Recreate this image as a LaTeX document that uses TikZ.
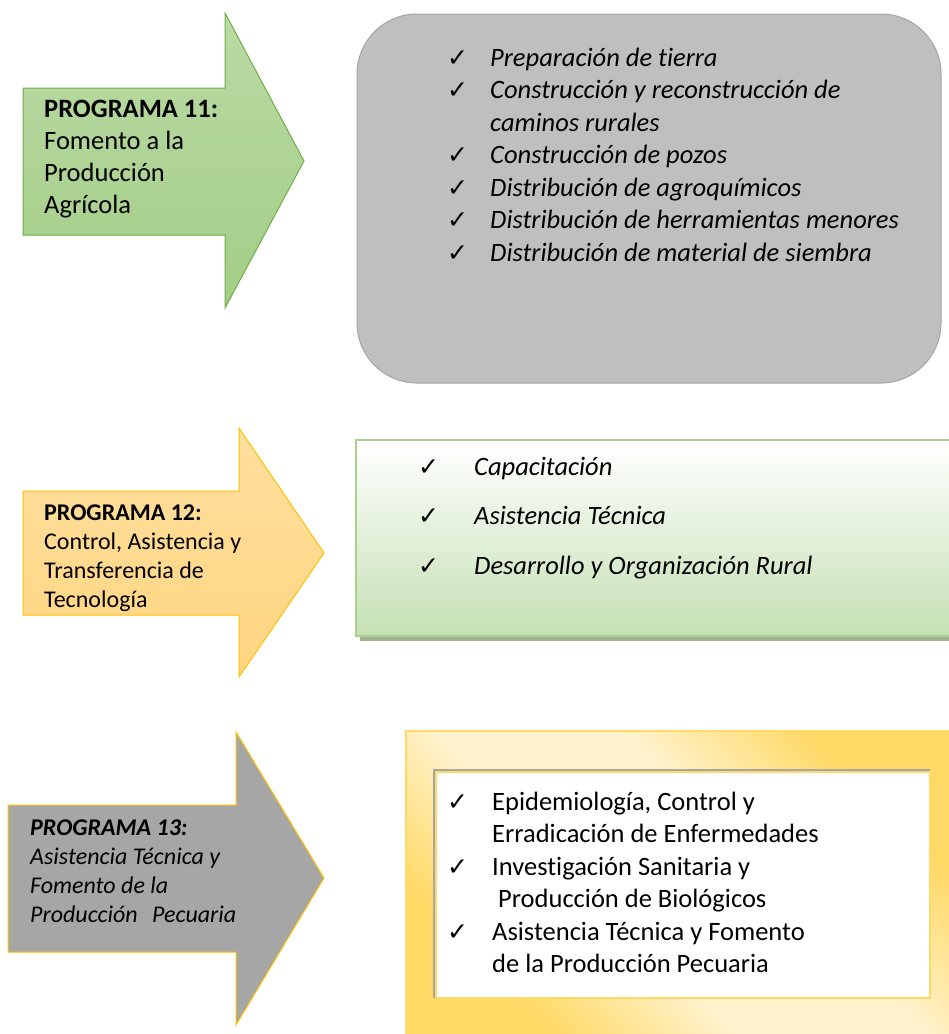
\documentclass[tikz,border=0pt]{standalone}
\usepackage{fontspec}
\setmainfont{Carlito}[Ligatures=NoCommon, RawFeature=-calt, RawFeature=-dlig]
\newfontfamily\chkfont{DejaVu Sans}
\usetikzlibrary{positioning}
\definecolor{armgreen}{HTML}{A9D18E}
\definecolor{armgreenline}{HTML}{70AD47}
\definecolor{armorange}{HTML}{FFD580}
\definecolor{armgold}{HTML}{FFC000}
\definecolor{armgray}{HTML}{A6A6A6}
\definecolor{boxgray}{HTML}{BFBFBF}
\definecolor{boxgrayline}{HTML}{A5A5A5}
\definecolor{boxgreen}{HTML}{C5E0B4}
\definecolor{boxshadow}{HTML}{A3B091}
\definecolor{boxyellow}{HTML}{FFD966}
\definecolor{boxcream}{HTML}{FFF2CC}
\pgfdeclareverticalshading{goldband}{100bp}{color(0bp)=(boxyellow); color(27bp)=(boxyellow); color(42bp)=(boxcream); color(58bp)=(boxcream); color(73bp)=(boxyellow); color(100bp)=(boxyellow)}
\newcommand{\chk}{{\chkfont\fontsize{25}{25}\selectfont ✓}}
\tikzset{%
	prog arrow/.style={
		line width=1pt,
		line join=miter
	},
	prog text/.style={
		anchor=base west,
		inner sep=0pt,
		font=\fontsize{24}{29}\selectfont
	},
	list text/.style={
		anchor=base west,
		inner sep=0pt,
		font=\fontsize{26.5}{32.5}\selectfont
	},
}

\begin{document}
\begin{tikzpicture}[x=1pt,y=-1pt]
	\clip (0,0) rectangle (949,1034);
	% programa 11
	\draw[prog arrow, draw=armgreenline, top color=armgreen!80!white, bottom color=armgreen!90!armgreenline]
		(23,88) -- (225,88) -- (225,13) -- (304,161) -- (225,308) -- (225,235) -- (23,235) -- cycle;
	\draw[line width=1pt, draw=boxgrayline, fill=boxgray, rounded corners=60pt]
		(357,14) rectangle (941,383);
	\node[prog text, font=\fontsize{26.5}{32}\selectfont] (p11) at (44,117)
		{\begin{tabular}[t]{@{}l@{}}
		\textbf{PROGRAMA 11:}\\Fomento a la\\Producción\\Agrícola
		\end{tabular}};
	\node[list text] (l11) at (447,66) {\begin{tabular}[t]{@{}l@{}l@{}}
		\makebox[43pt][l]{\chk} & \textit{Preparación de tierra}\\
		\makebox[43pt][l]{\chk} & \textit{Construcción y reconstrucción de}\\
		 & \textit{caminos rurales}\\
		\makebox[43pt][l]{\chk} & \textit{Construcción de pozos}\\
		\makebox[43pt][l]{\chk} & \textit{Distribución de agroquímicos}\\
		\makebox[43pt][l]{\chk} & \textit{Distribución de herramientas menores}\\
		\makebox[43pt][l]{\chk} & \textit{Distribución de material de siembra}
	\end{tabular}};
	% programa 12
	\draw[prog arrow, draw=armgold, top color=armorange!75!white, bottom color=armorange]
		(23,491) -- (239,491) -- (239,428) -- (324,553) -- (239,677) -- (239,615) -- (23,615) -- cycle;
	\fill[boxshadow] (360,444) rectangle (960,641);
	\draw[line width=2pt, draw=armgreen, top color=white, bottom color=boxgreen]
		(356,440) rectangle (955,636);
	\node[prog text] (p12) at (44,520)
		{\begin{tabular}[t]{@{}l@{}}
		\textbf{PROGRAMA 12:}\\Control, Asistencia y\\Transferencia de\\Tecnología
		\end{tabular}};
	\node[list text] (l12) at (418,475) {\begin{tabular}[t]{@{}l@{}l@{}}
		\makebox[56pt][l]{\chk} & \textit{Capacitación}\\[17pt]
		\makebox[56pt][l]{\chk} & \textit{Asistencia Técnica}\\[17pt]
		\makebox[56pt][l]{\chk} & \textit{Desarrollo y Organización Rural}
	\end{tabular}};
	% programa 13
	\draw[prog arrow, draw=armgold, fill=armgray]
		(8,805) -- (236,805) -- (236,732) -- (324,878) -- (236,1025) -- (236,952) -- (8,952) -- cycle;
	\draw[line width=1.5pt, draw=boxyellow, shading=goldband, shading angle=-45]
		(406,731) rectangle (960,1040);
	\fill[armgray] (433,769) rectangle (930,998);
	\draw[line width=1.5pt, draw=boxyellow, fill=white] (436,772) rectangle (930,998);
	\node[prog text, font=\fontsize{24}{29}\selectfont\itshape] (p13) at (30,835)
		{\begin{tabular}[t]{@{}l@{}}
		\textbf{PROGRAMA 13:}\\Asistencia Técnica y\\Fomento de la\\Producción\hspace{9pt} Pecuaria
		\end{tabular}};
	\node[list text] (l13) at (447,810) {\begin{tabular}[t]{@{}l@{}l@{}}
		\makebox[45pt][l]{\chk} & Epidemiología, Control y\\
		 & Erradicación de Enfermedades\\
		\makebox[45pt][l]{\chk} & Investigación Sanitaria y\\
		 & \hspace{6pt}Producción de Biológicos\\
		\makebox[45pt][l]{\chk} & Asistencia Técnica y Fomento\\
		 & de la Producción Pecuaria
	\end{tabular}};
\end{tikzpicture}
\end{document}
